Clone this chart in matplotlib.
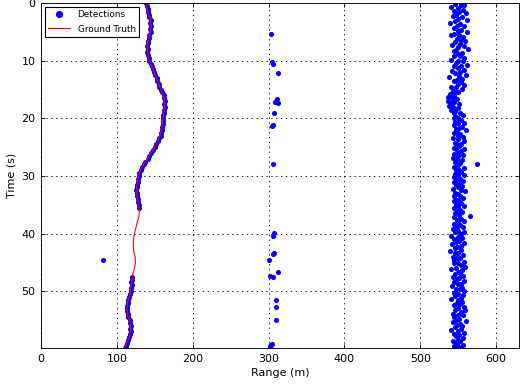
import numpy as np
import matplotlib
matplotlib.use('Agg')
import matplotlib.pyplot as plt

# ground truth track (time s, range m)
truth_t = [0, 1, 2, 3, 4, 5, 6, 7, 8, 9,
           10, 11, 12, 13, 14, 15, 16, 17, 18, 19,
           20, 21, 22, 23, 24, 25, 26, 27, 28, 29,
           30, 31, 32, 33, 34, 35, 36, 37, 38, 39,
           40, 41, 42, 43, 44, 45, 46, 47, 48, 49,
           50, 51, 52, 53, 54, 55, 56, 57, 58, 59, 59.9]
truth_r = [139, 140, 142, 144, 145, 144, 142, 140, 140, 141,
           143, 146, 149, 152, 155, 158, 161, 163, 163, 162,
           160.5, 160, 159, 157, 154, 150, 145, 140, 135, 131,
           129, 127, 126, 126, 127, 129, 129.5, 129, 127, 125,
           123, 122, 121.5, 122, 124, 124.5, 123, 121, 120, 119,
           118, 116, 114, 113, 114, 116.5, 118, 118, 116, 113, 110]

# detections of the target itself
track_t = [0.0, 0.5, 1.0, 1.5, 2.0, 2.5, 3.0, 3.5, 4.0, 4.5,
           5.0, 5.5, 6.0, 6.5, 7.0, 7.5, 8.0, 8.5, 9.0, 9.5,
           10.0, 10.5, 11.0, 11.5, 12.0, 12.5, 13.0, 13.5, 14.0, 14.5,
           15.0, 15.5, 16.0, 16.5, 17.0, 17.5, 18.0, 18.5, 19.0, 19.5,
           20.0, 20.5, 21.0, 21.5, 22.0, 22.5, 23.0, 23.5, 24.0, 24.5,
           25.0, 25.5, 26.0, 26.5, 27.0, 27.5, 28.0, 28.5, 29.0, 29.5,
           30.0, 30.5, 31.0, 31.5, 32.0, 32.5, 33.0, 33.5, 34.0, 34.5,
           35.0, 35.5,
           47.5, 48.0, 48.5, 49.0, 49.5, 50.0, 50.5, 51.0, 51.5, 52.0,
           52.5, 53.0, 53.5, 54.0, 54.5, 55.0, 55.5, 56.0, 56.5, 57.0,
           57.5, 58.0, 58.5, 59.0, 59.5, 59.9]
track_r = [138.5, 140, 140.5, 141, 142.5, 142.5, 144.5, 144, 145.5, 144,
           144.5, 142.5, 142, 141.5, 140.5, 139.5, 140.5, 140, 141.5, 142,
           142.5, 145, 146.5, 147, 149.5, 150, 152.5, 153, 155.5, 156,
           158.5, 159, 161.5, 161.5, 163.5, 162.5, 163.5, 162, 162.5, 161,
           160.5, 160.5, 160.5, 159, 159.5, 157.5, 157.5, 155, 154.5, 152,
           150.5, 147, 145.5, 142, 140.5, 137, 135.5, 132.5, 131.5, 129.5,
           129.5, 127.5, 127.5, 126, 126.5, 125.5, 126.5, 126, 127.5, 127.5,
           129.5, 129,
           120.5, 120.5, 119, 119.5, 118, 118.5, 117, 116.5, 114.5, 114.5,
           113, 113.5, 113, 114.5, 115, 117, 117, 118.5, 117.5, 118.5,
           117, 116.5, 114.5, 113.5, 111.5, 110.5]

# sparse clutter near 305 m plus a stray return
sparse_t = [5.4, 10.3, 10.6, 12.2, 16.6, 17.1, 17.3, 19.0, 21.1, 21.3,
            27.9, 39.9, 40.4, 43.3, 43.5, 44.6, 46.6, 47.4, 47.6, 51.6,
            52.8, 55.0, 59.2, 59.3, 59.6, 44.6]
sparse_r = [303.5, 305, 305.7, 311.8, 311, 309, 312.7, 307, 306, 304.4,
            306, 307, 305.3, 307, 306, 300.9, 311.8, 301.8, 305.3, 310,
            310, 310, 304.4, 302.6, 301.3, 81.6]

# dense clutter near 550 m
dense_t = [0.1, 0.3, 0.4, 0.7, 0.9, 1.2, 1.3, 1.6, 1.8, 2.1,
           2.2, 2.5, 2.8, 3.0, 3.1, 3.4, 3.7, 3.9, 4.0, 4.3,
           4.6, 4.8, 5.0, 5.3, 5.5, 5.6, 5.9, 6.2, 6.4, 6.5,
           6.8, 7.1, 7.3, 7.4, 7.7, 8.0, 8.2, 8.3, 8.6, 8.9,
           9.1, 9.2, 9.5, 9.8, 10.0, 10.1, 10.4, 10.7, 10.9, 11.0,
           11.3, 11.6, 11.8, 11.9, 12.2, 12.5, 12.7, 12.8, 13.1, 13.4,
           13.6, 13.7, 14.0, 14.3, 14.5, 14.6, 14.9, 15.2, 15.4, 15.5,
           15.8, 16.1, 16.3, 16.4, 16.7, 17.0, 17.2, 17.3, 17.6, 17.9,
           18.1, 18.2, 18.5, 18.8, 19.0, 19.1, 19.4, 19.7, 19.9, 20.0,
           20.3, 20.6, 20.8, 20.9, 21.2, 21.5, 21.7, 21.8, 22.1, 22.4,
           22.6, 22.7, 23.0, 23.3, 23.5, 23.6, 23.9, 24.2, 24.4, 24.5,
           24.8, 25.1, 25.3, 25.4, 25.7, 26.0, 26.2, 26.3, 26.6, 26.9,
           27.1, 27.2, 27.5, 27.8, 28.0, 28.1, 28.4, 28.7, 28.9, 29.0,
           29.3, 29.6, 29.8, 29.9, 30.2, 30.5, 30.7, 30.8, 31.1, 31.4,
           31.6, 31.7, 32.0, 32.3, 32.5, 32.6, 32.9, 33.2, 33.4, 33.5,
           33.8, 34.1, 34.3, 34.4, 34.7, 35.0, 35.2, 35.3, 35.6, 35.9,
           36.1, 36.2, 36.5, 36.8, 37.0, 37.1, 37.4, 37.7, 37.9, 38.0,
           38.3, 38.6, 38.8, 38.9, 39.2, 39.5, 39.7, 39.8, 40.1, 40.4,
           40.6, 40.7, 41.0, 41.3, 41.5, 41.6, 41.9, 42.2, 42.4, 42.5,
           42.8, 43.1, 43.3, 43.4, 43.7, 44.0, 44.2, 44.3, 44.6, 44.9,
           45.1, 45.2, 45.5, 45.8, 46.0, 46.1, 46.4, 46.7, 46.9, 47.0,
           47.3, 47.6, 47.8, 47.9, 48.2, 48.5, 48.7, 48.8, 49.1, 49.4,
           49.6, 49.7, 50.0, 50.3, 50.5, 50.6, 50.9, 51.2, 51.4, 51.5,
           51.8, 52.1, 52.3, 52.4, 52.7, 53.0, 53.2, 53.3, 53.6, 53.9,
           54.1, 54.2, 54.5, 54.8, 55.0, 55.1, 55.4, 55.7, 55.9, 56.0,
           56.3, 56.6, 56.8, 56.9, 57.2, 57.5, 57.7, 57.8, 58.1, 58.4,
           58.6, 58.7, 59.0, 59.3, 59.5, 59.6, 59.8, 59.9]
dense_r = [546, 553, 558, 541, 549, 556, 544, 551, 560, 547,
           543, 555, 550, 562, 546, 539, 552, 557, 548, 544,
           554, 549, 561, 545, 551, 541, 556, 548, 553, 559,
           546, 552, 542, 557, 550, 563, 547, 544, 555, 549,
           552, 545, 558, 541, 550, 556, 547, 561, 553, 544,
           549, 557, 542, 552, 546, 560, 551, 538, 555, 548,
           544, 553, 549, 558, 541, 547, 555, 543, 550, 546,
           539, 545, 536, 542, 548, 537, 544, 540, 551, 538,
           543, 549, 541, 546, 552, 544, 556, 547, 550, 545,
           553, 546, 558, 549, 544, 555, 551, 547, 560, 548,
           545, 552, 549, 556, 543, 550, 557, 546, 553, 548,
           551, 544, 558, 547, 553, 549, 545, 556, 550, 543,
           548, 555, 546, 552, 575, 549, 544, 557, 551, 547,
           553, 546, 550, 558, 544, 552, 548, 556, 545, 551,
           547, 555, 549, 543, 553, 559, 546, 550, 544, 552,
           556, 548, 551, 545, 553, 547, 557, 550, 544, 552,
           549, 555, 546, 551, 566, 544, 553, 548, 557, 550,
           545, 552, 548, 556, 543, 550, 558, 546, 553, 541,
           549, 555, 544, 551, 547, 557, 542, 553, 548, 546,
           554, 539, 550, 546, 556, 543, 552, 548, 545, 557,
           550, 544, 553, 559, 547, 541, 555, 549, 552, 546,
           556, 543, 551, 548, 558, 545, 553, 549, 542, 555,
           547, 552, 558, 544, 550, 556, 546, 553, 541, 549,
           555, 548, 552, 544, 557, 550, 546, 559, 553, 543,
           549, 556, 545, 551, 547, 560, 543, 552, 548, 555,
           546, 553, 541, 549, 557, 544, 551, 547, 556, 550,
           543, 552, 548, 556, 545, 550, 554, 547]

plt.rcParams['font.family'] = ['DejaVu Sans']
plt.rcParams['font.size'] = 10

det_t = track_t + sparse_t + dense_t
det_r = track_r + sparse_r + dense_r

fig = plt.figure(figsize=(6.5, 4.825), dpi=80, facecolor='white')
ax = fig.add_axes([0.079, 0.098, 0.919, 0.894])

ax.plot(det_r, det_t, 'o', color='blue', mec='blue', mew=0, markersize=4.6,
        label='Detections')
ax.plot(truth_r, truth_t, '-', color='red', linewidth=1.0, label='Ground Truth')

ax.set_xlim(0, 630)
ax.set_ylim(59.9, 0)
ax.set_xticks([0, 100, 200, 300, 400, 500, 600])
ax.set_yticks([0, 10, 20, 30, 40, 50])
ax.tick_params(direction='in', top=True, right=True, length=4, pad=5)
ax.grid(True, color='black', linestyle=(0, (1.5, 4)), linewidth=0.8)
ax.set_xlabel('Range (m)')
ax.set_ylabel('Time (s)')

leg = ax.legend(loc='upper left', numpoints=1, fontsize=8, fancybox=False,
                markerscale=1.4, borderaxespad=0.4, handlelength=2.5,
                labelspacing=0.6, framealpha=1.0)
leg.get_frame().set_edgecolor('black')

fig.savefig('out.png', dpi=80, facecolor='white')
